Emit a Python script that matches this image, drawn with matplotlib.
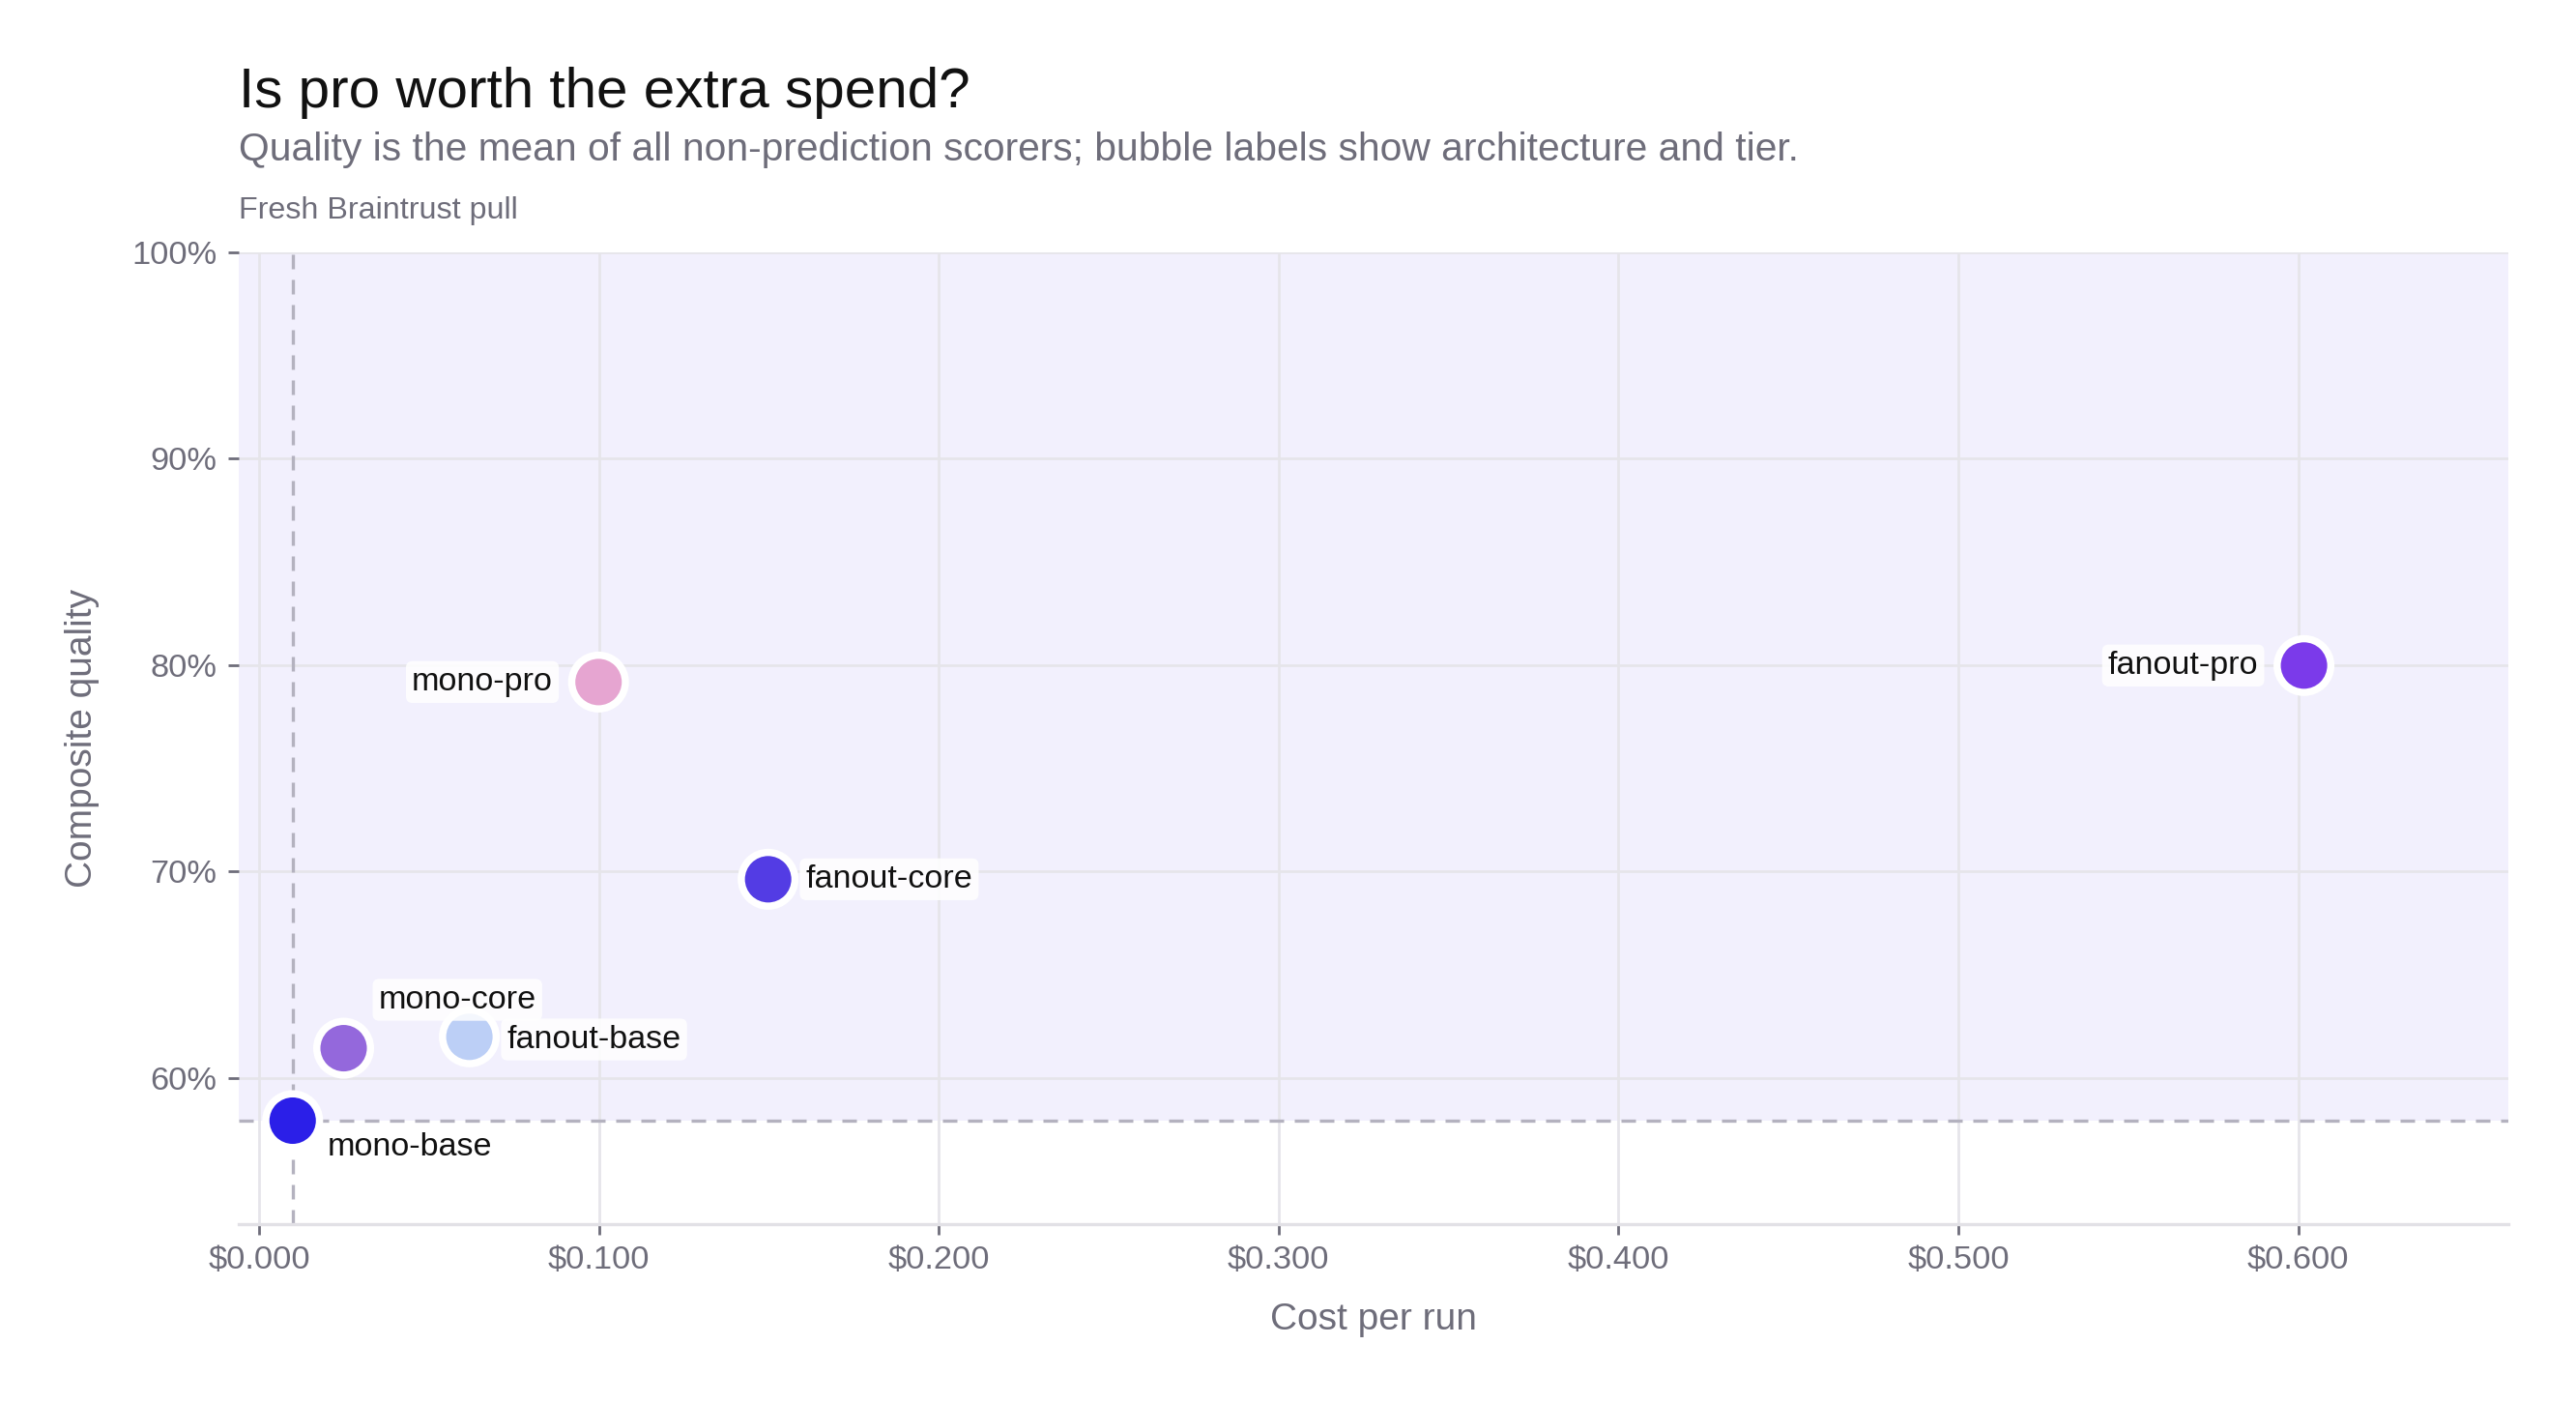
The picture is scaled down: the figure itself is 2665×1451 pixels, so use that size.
import matplotlib
matplotlib.use('Agg')
import matplotlib.pyplot as plt
from matplotlib.ticker import FuncFormatter

plt.rcParams['font.family'] = ['Liberation Sans', 'DejaVu Sans']

# data
names = ['mono-base', 'mono-core', 'fanout-base', 'mono-pro', 'fanout-core', 'fanout-pro']
cost = [0.0099, 0.0249, 0.0619, 0.0999, 0.1498, 0.6017]
quality = [0.5794, 0.6145, 0.6200, 0.7918, 0.6963, 0.7998]
colors = ['#2b1fe8', '#9468dc', '#bccff6', '#e6a5d1', '#533ce4', '#7b3aea']
# label placement: (dx, dy) in points, horizontal alignment
label_pos = [(13, -10, 'left'), (13, 18, 'left'), (14, -1, 'left'),
             (-17, 0, 'right'), (14, 0, 'left'), (-17, 0, 'right')]

GRAY = '#6e6d7a'

fig = plt.figure(figsize=(13.325, 7.255), dpi=200)
ax = fig.add_axes([0.0925, 0.1275, 0.8812, 0.6928])

base_x, base_y = cost[0], quality[0]
ax.axhspan(base_y, 1.0, color='#f2f0fd', zorder=0, lw=0)
ax.axvline(base_x, color='#b4b2bf', ls=(0, (4.5, 3.3)), lw=1.2, zorder=1)
ax.axhline(base_y, color='#b4b2bf', ls=(0, (4.5, 3.3)), lw=1.2, zorder=1)

ax.scatter(cost, quality, s=400, c=colors, edgecolors='white', linewidths=2.7, zorder=3)

for n, x, y, (dx, dy, ha) in zip(names, cost, quality, label_pos):
    ax.annotate(n, (x, y), xytext=(dx, dy), textcoords='offset points',
                ha=ha, va='center', fontsize=12.3, color='#111111', zorder=4,
                bbox=dict(boxstyle='round,pad=0.18,rounding_size=0.2', fc='white',
                          ec='none', alpha=0.85))

ax.set_xlim(-0.0061, 0.6618)
ax.set_ylim(0.5293, 1.0)
ax.set_xticks([0, 0.1, 0.2, 0.3, 0.4, 0.5, 0.6])
ax.set_yticks([0.6, 0.7, 0.8, 0.9, 1.0])
ax.xaxis.set_major_formatter(FuncFormatter(lambda v, p: f'${v:.3f}'))
ax.yaxis.set_major_formatter(FuncFormatter(lambda v, p: f'{v*100:.0f}%'))

ax.grid(True, color='#e6e5ea', lw=1.0, zorder=0)
ax.set_axisbelow(True)
for s in ['top', 'right', 'left']:
    ax.spines[s].set_visible(False)
ax.spines['bottom'].set_color('#e2e1e6')
ax.spines['bottom'].set_linewidth(1.2)
ax.tick_params(colors=GRAY, labelsize=12.4, length=4, width=1, pad=4)

ax.set_xlabel('Cost per run', fontsize=14, color=GRAY, labelpad=10)
ax.set_ylabel('Composite quality', fontsize=14, color=GRAY, labelpad=12)

fig.text(0.0925, 0.934, 'Is pro worth the extra spend?', fontsize=21, color='#111111', va='center')
fig.text(0.0925, 0.893, 'Quality is the mean of all non-prediction scorers; bubble labels show architecture and tier.',
         fontsize=14.7, color=GRAY, va='center')
fig.text(0.0925, 0.850, 'Fresh Braintrust pull', fontsize=11.6, color=GRAY, va='center')

fig.savefig('out.png', dpi=200)
